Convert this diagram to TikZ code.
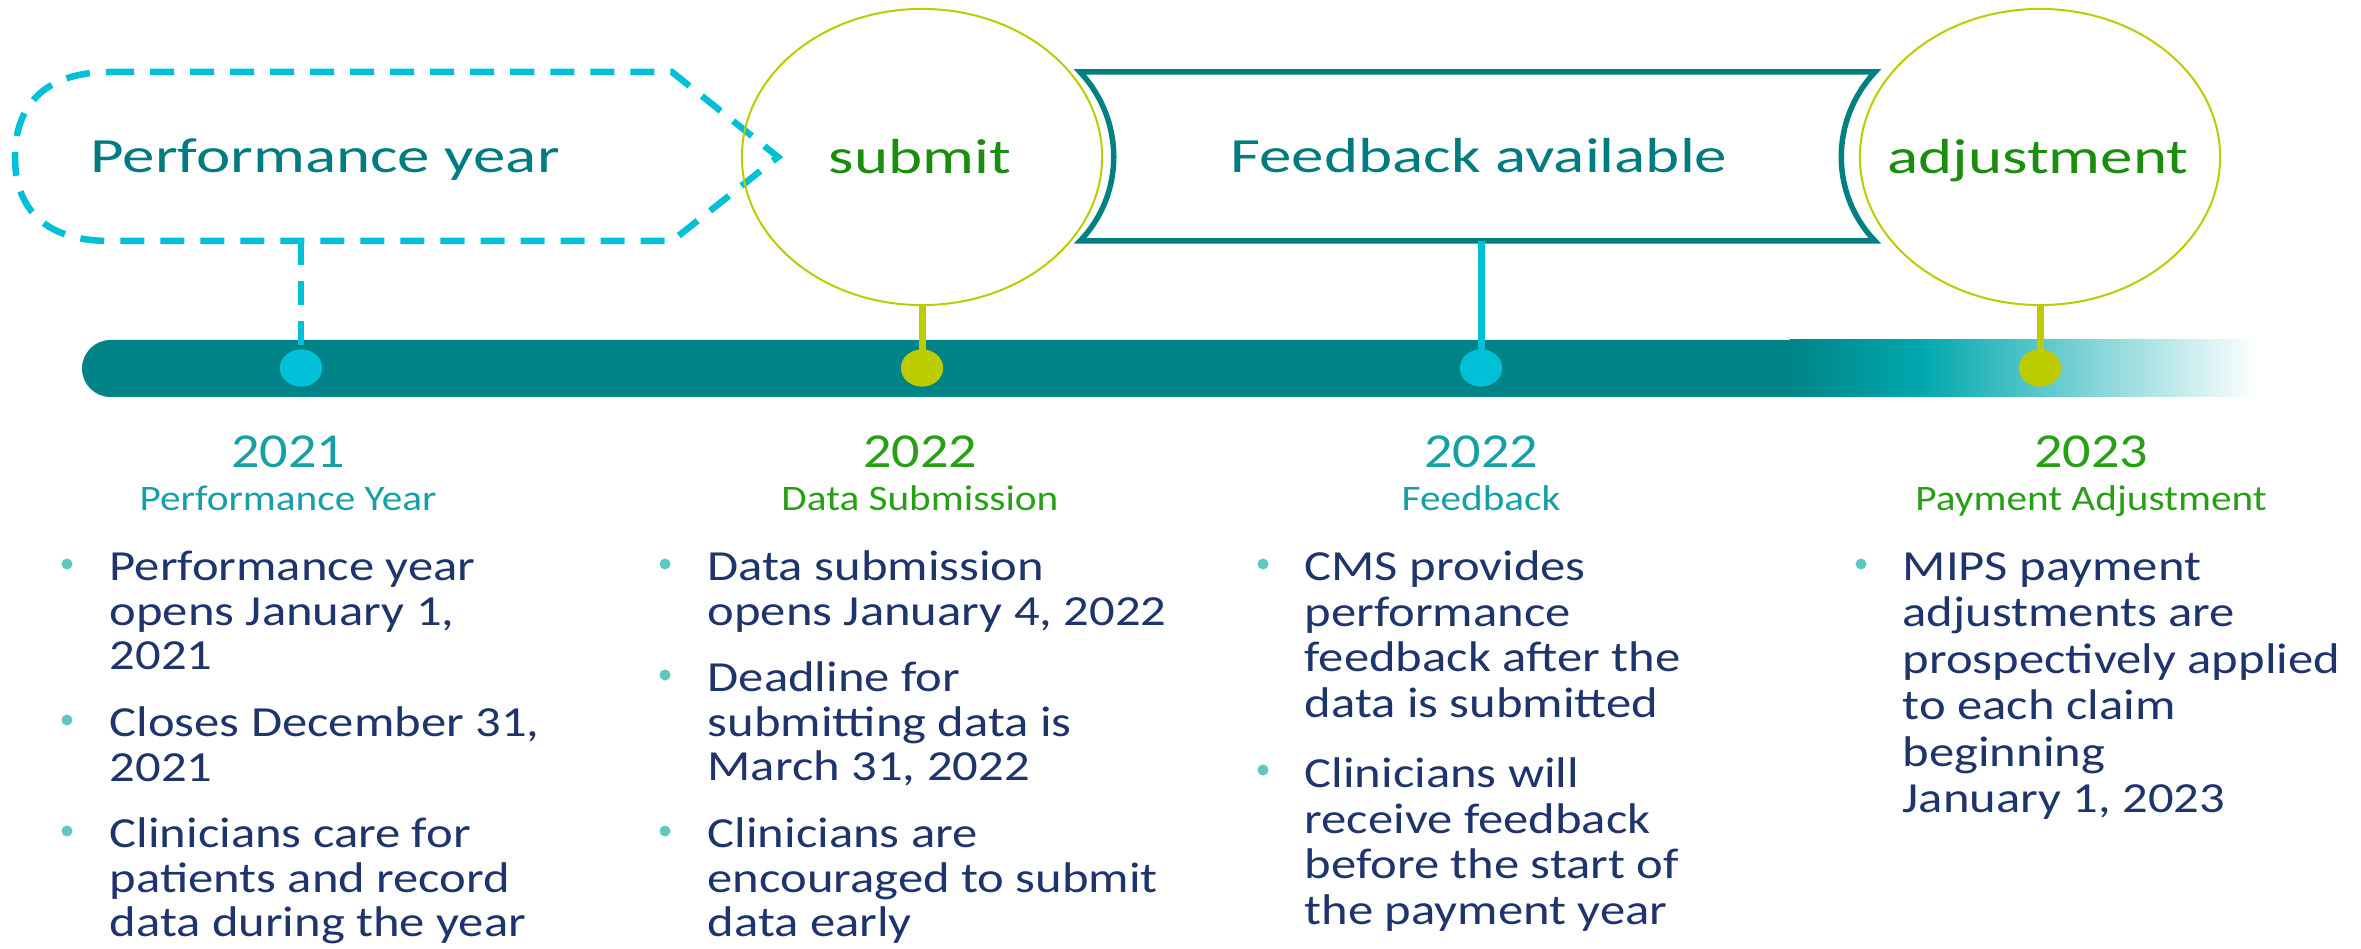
\documentclass[tikz,border=0pt]{standalone}
\usepackage{fontspec}
\setmainfont{Carlito}[FakeStretch=1.15]
\newfontfamily\shapefont{Carlito}[FakeStretch=1.32]
\newfontfamily\bodyfont{Carlito}[FakeStretch=1.18]
\usetikzlibrary{shapes.geometric}

\definecolor{barteal}{RGB}{0,132,136}
\definecolor{lightteal}{RGB}{0,168,174}
\definecolor{dashcyan}{RGB}{0,192,216}
\definecolor{lime}{RGB}{188,204,0}
\definecolor{boxteal}{RGB}{0,128,128}
\definecolor{txtteal}{RGB}{0,124,128}
\definecolor{txtgreen}{RGB}{26,140,14}
\definecolor{headteal}{RGB}{22,160,166}
\definecolor{headgreen}{RGB}{40,160,22}
\definecolor{navy}{RGB}{30,52,108}
\definecolor{bulletteal}{RGB}{92,200,190}

\tikzset{
  shapetxt/.style={anchor=base, inner sep=0pt, font=\shapefont\fontsize{14}{16}\selectfont},
  ring/.style={ellipse, draw=lime, line width=0.02cm, minimum width=3.6cm, minimum height=2.96cm, inner sep=0pt},
  stem/.style={line width=0.07cm},
  dot/.style={ellipse, inner sep=0pt, minimum width=0.42cm, minimum height=0.37cm},
  year/.style={anchor=base, inner sep=0pt, font=\fontsize{13.9}{16}\selectfont},
  phase/.style={anchor=base, inner sep=0pt, font=\fontsize{10.2}{12}\selectfont},
  item/.style={anchor=north west, inner sep=0pt, align=left, text=navy, font=\bodyfont\fontsize{12.2pt}{#1}\selectfont},
  item/.default=12.66pt,
  bul/.style={circle, fill=bulletteal, inner sep=0pt, minimum size=0.11cm},
  dashy/.style={dashcyan, line width=0.065cm, dash pattern=on 0.24cm off 0.16cm}
}

\begin{document}
\begin{tikzpicture}[x=0.01cm, y=-0.01cm]
		%%%%% START %%%%%
		\useasboundingbox (0,0) rectangle (2361,949);
		
		% timeline bar, fading out on the right
		\fill[barteal, rounded corners=0.285cm] (82,340) rectangle (1830,397);
		\shade[left color=barteal, right color=lightteal] (1790,340) rectangle (1922,397);
		\shade[left color=lightteal, right color=white] (1921,340) rectangle (2257,397);
		
		% performance year: dashed shape pointing right
		\draw[dashy] (110,72) -- (672,72) -- (778,157) -- (672,241) -- (110,241)
			.. controls (40,241) and (15,204) .. (15,157)
			.. controls (15,110) and (40,72) .. (110,72);
		\node[shapetxt, text=txtteal] (perf) at (325,173) {Performance year};
		\coordinate (perfbot) at (301,241);
		
		% submit
		\node[ring] (submit) at (922,157) {};
		\node[shapetxt, text=txtgreen] (submittxt) at (920,174) {submit};
		
		% feedback box with hollow sides
		\draw[boxteal, line width=0.055cm, fill=white] (1080,72) -- (1875,72)
			.. controls (1830,120) and (1830,194) .. (1875,241) -- (1080,241)
			.. controls (1125,194) and (1125,120) .. (1080,72) -- cycle;
		\node[shapetxt, text=txtteal] (fb) at (1479,173) {Feedback available};
		\coordinate (fbbot) at (1481,241);
		
		% adjustment
		\node[ring] (adj) at (2040,157) {};
		\node[shapetxt, text=txtgreen] (adjtxt) at (2038,174) {adjustment};
		
		% dots on the bar
		\node[dot, fill=dashcyan] (d1) at (301,368) {};
		\node[dot, fill=lime] (d2) at (922,368) {};
		\node[dot, fill=dashcyan] (d3) at (1481,368) {};
		\node[dot, fill=lime] (d4) at (2040,368) {};
		
		% stems
		\draw[dashy] (perfbot) -- (d1.center);
		\draw[stem, lime] (submit.south) -- (d2.center);
		\draw[stem, dashcyan] (fbbot) -- (d3.center);
		\draw[stem, lime] (adj.south) -- (d4.center);
		\node[dot, fill=dashcyan] at (d1) {};
		\node[dot, fill=lime] at (d2) {};
		\node[dot, fill=dashcyan] at (d3) {};
		\node[dot, fill=lime] at (d4) {};
		
		% headings
		\node[year, text=headteal] (y1) at (288,467) {2021};
		\node[phase, text=headteal] (p1) at (288,510) {Performance Year};
		\node[year, text=headgreen] (y2) at (920,467) {2022};
		\node[phase, text=headgreen] (p2) at (920,510) {Data Submission};
		\node[year, text=headteal] (y3) at (1481,467) {2022};
		\node[phase, text=headteal] (p3) at (1481,510) {Feedback};
		\node[year, text=headgreen] (y4) at (2091,467) {2023};
		\node[phase, text=headgreen] (p4) at (2091,510) {Payment Adjustment};
		
		% column 1
		\node[bul] at (67,564) {};
		\node[item] (a1) at (109,549) {\strut Performance year\\opens January 1,\\2021};
		\node[bul] at (67,720) {};
		\node[item] (a2) at (109,705) {\strut Closes December 31,\\2021};
		\node[bul] at (67,831) {};
		\node[item] (a3) at (109,816) {\strut Clinicians care for\\patients and record\\data during the year};
		
		% column 2
		\node[bul] at (665,564) {};
		\node[item] (b1) at (707,549) {\strut Data submission\\opens January 4, 2022};
		\node[bul] at (665,675) {};
		\node[item] (b2) at (707,660) {\strut Deadline for\\submitting data is\\March 31, 2022};
		\node[bul] at (665,831) {};
		\node[item] (b3) at (707,816) {\strut Clinicians are\\encouraged to submit\\data early};
		
		% column 3
		\node[bul] at (1263,564) {};
		\node[item=12.94pt] (c1) at (1304,548) {\strut CMS provides\\performance\\feedback after the\\data is submitted};
		\node[bul] at (1263,770) {};
		\node[item=12.94pt] (c2) at (1304,755) {\strut Clinicians will\\receive feedback\\before the start of\\the payment year};
		
		% column 4
		\node[bul] at (1861,564) {};
		\node[item=13.23pt] (e1) at (1902,547) {\strut MIPS payment\\adjustments are\\prospectively applied\\to each claim\\beginning\\January 1, 2023};
		
		%%%%% END %%%%%
	\end{tikzpicture}
\end{document}
